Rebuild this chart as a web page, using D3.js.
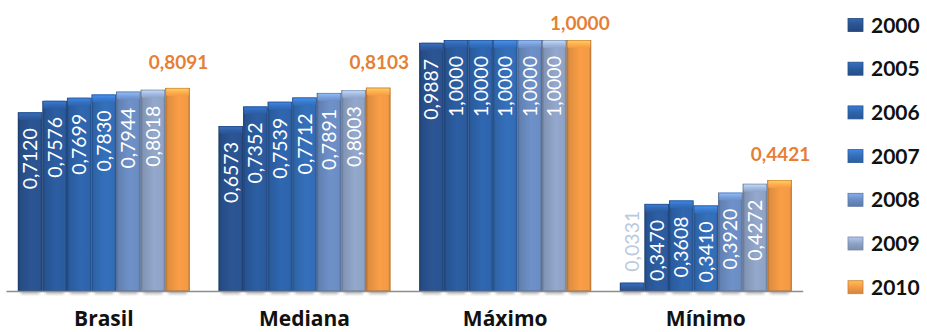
<!DOCTYPE html>
<html>
<head>
<meta charset="utf-8">
<script src="https://cdn.jsdelivr.net/npm/d3@7/dist/d3.min.js"></script>
<style>
  html, body { margin: 0; padding: 0; background: #fff; }
  svg { display: block; }
</style>
</head>
<body>
<svg id="chart" width="927" height="332"></svg>
<script>
// IDHM por ano: Brasil, mediana, máximo e mínimo
const categories = ["Brasil", "Mediana", "Máximo", "Mínimo"];
const years = ["2000", "2005", "2006", "2007", "2008", "2009", "2010"];
const values2000 = [0.7120, 0.6573, 0.9887, 0.0331];
const values2005 = [0.7576, 0.7352, 1.0000, 0.3470];
const values2006 = [0.7699, 0.7539, 1.0000, 0.3608];
const values2007 = [0.7830, 0.7712, 1.0000, 0.3410];
const values2008 = [0.7944, 0.7891, 1.0000, 0.3920];
const values2009 = [0.8018, 0.8003, 1.0000, 0.4272];
const values2010 = [0.8091, 0.8103, 1.0000, 0.4421];
const colors = ["#2A5390", "#2B5B9E", "#2E64AC", "#336DB7", "#6B8DC3", "#8FA3C6", "#F39A45"];

const seriesValues = [values2000, values2005, values2006, values2007, values2008, values2009, values2010];
const fmt = v => v.toFixed(4).replace(".", ",");

const svg = d3.select("#chart");
const defs = svg.append("defs");

const x0 = d3.scaleBand().domain(categories).range([3.5, 806.2]).paddingInner(0.143).paddingOuter(0.0715);
const x1 = d3.scaleBand().domain(years).range([0, x0.bandwidth()]).padding(0);
const y = d3.scaleLinear().domain([0, 1]).range([291, 40]);
const color = d3.scaleOrdinal().domain(years).range(colors);

// bevelled fills per series
years.forEach((yr, i) => {
  const c = d3.color(colors[i]);
  const h = defs.append("linearGradient").attr("id", "body" + yr)
    .attr("x1", 0).attr("x2", 1).attr("y1", 0).attr("y2", 0);
  h.append("stop").attr("offset", "0%").attr("stop-color", c.darker(0.9));
  h.append("stop").attr("offset", "10%").attr("stop-color", c.darker(0.25));
  h.append("stop").attr("offset", "55%").attr("stop-color", c.brighter(0.08));
  h.append("stop").attr("offset", "90%").attr("stop-color", c);
  h.append("stop").attr("offset", "100%").attr("stop-color", c.darker(0.6));
  const v = defs.append("linearGradient").attr("id", "cap" + yr)
    .attr("x1", 0).attr("x2", 0).attr("y1", 0).attr("y2", 1);
  v.append("stop").attr("offset", "0%").attr("stop-color", c.brighter(0.9));
  v.append("stop").attr("offset", "55%").attr("stop-color", c.brighter(0.35));
  v.append("stop").attr("offset", "100%").attr("stop-color", c);
  const l = defs.append("linearGradient").attr("id", "leg" + yr)
    .attr("x1", 0).attr("x2", 0).attr("y1", 0).attr("y2", 1);
  l.append("stop").attr("offset", "0%").attr("stop-color", c.brighter(0.6));
  l.append("stop").attr("offset", "50%").attr("stop-color", c);
  l.append("stop").attr("offset", "100%").attr("stop-color", c.darker(0.4));
});
const shadow = defs.append("filter").attr("id", "soft").attr("x", "-20%").attr("y", "-50%").attr("width", "140%").attr("height", "200%");
shadow.append("feGaussianBlur").attr("stdDeviation", 1.5);

const rows = categories.map((cat, ci) => ({
  cat,
  bars: years.map((yr, si) => ({ cat, year: yr, si, value: seriesValues[si][ci] }))
}));

// bar shadows on the floor
const groups = svg.selectAll("g.cat").data(rows).join("g")
  .attr("class", "cat")
  .attr("transform", d => `translate(${x0(d.cat)},0)`);

groups.selectAll("rect.shadow").data(d => d.bars).join("rect")
  .attr("class", "shadow")
  .attr("x", d => x1(d.year) + 3)
  .attr("y", y(0) - 1)
  .attr("width", x1.bandwidth() - 6)
  .attr("height", 4)
  .attr("fill", "#7d7d7d")
  .attr("opacity", 0.55)
  .attr("filter", "url(#soft)");

// axis baseline
svg.append("line")
  .attr("x1", x0.range()[0] + 3).attr("x2", x0.range()[1] - 3)
  .attr("y1", y(0) + 0.5).attr("y2", y(0) + 0.5)
  .attr("stroke", "#8c8c8c").attr("stroke-width", 1.6);

const bw = x1.bandwidth();
const bars = groups.selectAll("g.bar").data(d => d.bars).join("g").attr("class", "bar");

bars.append("rect")
  .attr("x", d => x1(d.year))
  .attr("y", d => y(d.value))
  .attr("width", bw)
  .attr("height", d => y(0) - y(d.value))
  .attr("fill", d => `url(#body${d.year})`);

bars.append("rect")
  .attr("x", d => x1(d.year) + 0.5)
  .attr("y", d => y(d.value))
  .attr("width", bw - 1)
  .attr("height", d => Math.min(8, y(0) - y(d.value)))
  .attr("rx", 2)
  .attr("fill", d => `url(#cap${d.year})`);

bars.append("rect")
  .attr("x", d => x1(d.year) + 0.5)
  .attr("y", d => y(d.value) + 0.5)
  .attr("width", bw - 1)
  .attr("height", d => Math.max(0, y(0) - y(d.value) - 1))
  .attr("fill", "none")
  .attr("stroke", d => d3.color(color(d.year)).darker(0.8))
  .attr("stroke-opacity", 0.55)
  .attr("stroke-width", 1);

// rotated value labels for the blue series
const FONT = "Lato, 'Open Sans', sans-serif";
const labelled = d => d.year !== "2010";
groups.selectAll("text.val").data(d => d.bars.filter(labelled)).join("text")
  .attr("class", "val")
  .attr("transform", d => {
    const cx = x1(d.year) + bw / 2 + 7;
    const inside = (y(0) - y(d.value)) > 70;
    const ty = inside ? y(d.value) + 16 : y(d.value) - 11;
    return `translate(${cx},${ty}) rotate(-90)`;
  })
  .attr("text-anchor", d => ((y(0) - y(d.value)) > 70 ? "end" : "start"))
  .attr("font-family", FONT)
  .attr("font-size", 19.5)
  .attr("fill", d => ((y(0) - y(d.value)) > 70 ? "#ffffff" : "#b9c9de"))
  .text(d => fmt(d.value));

// 2010 labels above the bars
groups.selectAll("text.top").data(d => d.bars.filter(b => b.year === "2010")).join("text")
  .attr("class", "top")
  .attr("x", d => x1(d.year) + bw / 2 + 1)
  .attr("y", d => Math.max(y(d.value) - 19, 30))
  .attr("text-anchor", "middle")
  .attr("font-family", FONT)
  .attr("font-weight", "bold")
  .attr("font-size", 19)
  .attr("fill", "#E57F36")
  .text(d => fmt(d.value));

// category axis labels
svg.selectAll("text.cat").data(categories).join("text")
  .attr("class", "cat")
  .attr("x", d => x0(d) + x0.bandwidth() / 2)
  .attr("y", 326)
  .attr("text-anchor", "middle")
  .attr("font-family", "'Open Sans', Lato, sans-serif")
  .attr("font-weight", "bold")
  .attr("font-size", 21)
  .attr("fill", "#111")
  .text(d => d);

// legend
const legend = svg.append("g").selectAll("g").data(years).join("g")
  .attr("transform", (d, i) => `translate(848,${25 + i * 43.7})`);
legend.append("rect")
  .attr("x", 0).attr("y", -6.5).attr("width", 15).attr("height", 13)
  .attr("fill", d => `url(#leg${d})`)
  .attr("stroke", d => d3.color(color(d)).darker(0.5)).attr("stroke-width", 0.8);
legend.append("text")
  .attr("x", 23).attr("y", 7.5)
  .attr("font-family", FONT)
  .attr("font-weight", "bold")
  .attr("font-size", 21)
  .attr("fill", "#111")
  .text(d => d);
</script>
</body>
</html>
